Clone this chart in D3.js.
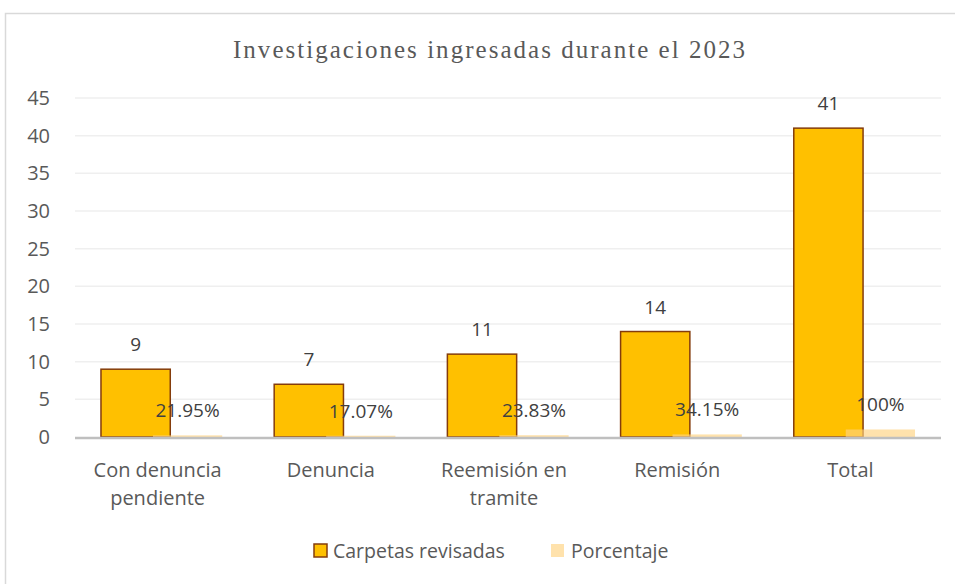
<!DOCTYPE html>
<html><head><meta charset="utf-8">
<script src="https://cdn.jsdelivr.net/npm/d3@7"></script>
<style>html,body{margin:0;padding:0;background:#fff;}svg{display:block;}</style>
</head><body>
<svg id="c" width="955" height="584"></svg>
<script>
const categories = [["Con denuncia","pendiente"],["Denuncia"],["Reemisión en","tramite"],["Remisión"],["Total"]];
const carpetas = [9, 7, 11, 14, 41];
const porcentaje = [0.2195, 0.1707, 0.2383, 0.3415, 1];
const porcentajeLabels = ["21.95%","17.07%","23.83%","34.15%","100%"];
const yTicks = [0,5,10,15,20,25,30,35,40,45];
const seriesNames = ["Carpetas revisadas","Porcentaje"];
const title = "Investigaciones ingresadas durante el 2023";

const svg = d3.select("#c");
const font = "'Open Sans', 'Noto Sans', sans-serif";
const txt = "#595959";

svg.append("rect").attr("x",5.5).attr("y",13.5).attr("width",960).attr("height",580)
  .attr("fill","#fff").attr("stroke","#d9d9d9").attr("stroke-width",1.5);

svg.append("text").attr("x",489).attr("y",58).attr("text-anchor","middle")
  .attr("font-family","'Liberation Serif','Times New Roman',serif").attr("font-size",25)
  .attr("fill",txt).attr("textLength",512).attr("lengthAdjust","spacing").text(title);

const keys = categories.map(c=>c.join(" "));
const x = d3.scaleBand().domain(keys).range([75,941]).padding(0);
const y = d3.scaleLinear().domain([0,45]).range([437,98]);

// gridlines
svg.append("g").selectAll("line").data(yTicks.filter(t=>t>0)).join("line")
  .attr("x1",75).attr("x2",941).attr("y1",d=>y(d)).attr("y2",d=>y(d))
  .attr("stroke","#efefef").attr("stroke-width",1.5);

// y axis labels
const yAxis = svg.append("g").attr("transform","translate(75,0)")
  .call(d3.axisLeft(y).tickValues(yTicks).tickSize(0).tickPadding(25));
yAxis.select(".domain").remove();
yAxis.selectAll("text").attr("font-family",font).attr("font-size",20).attr("fill",txt);

const step = x.bandwidth();
const w = step/2.5;
const groupW = w*1.75;
const cx = k => x(k) + step/2;

// carpetas bars
svg.append("g").selectAll("rect").data(carpetas).join("rect")
  .attr("x",(d,i)=>cx(keys[i]) - groupW/2)
  .attr("y",d=>y(d)).attr("width",w).attr("height",d=>y(0)-y(d))
  .attr("fill","#FFC000").attr("stroke","#843C0C").attr("stroke-width",1.5);

// porcentaje bars
svg.append("g").selectAll("rect").data(porcentaje).join("rect")
  .attr("x",(d,i)=>cx(keys[i]) - groupW/2 + 0.75*w)
  .attr("y",d=>y(d)).attr("width",w).attr("height",d=>y(0)-y(d))
  .attr("fill","#FFD27F").attr("fill-opacity",0.65);

// baseline
svg.append("line").attr("x1",75).attr("x2",941).attr("y1",y(0)+1).attr("y2",y(0)+1)
  .attr("stroke","#bfbfbf").attr("stroke-width",2.5);

// labels
svg.append("g").selectAll("text").data(carpetas).join("text")
  .attr("x",(d,i)=>cx(keys[i]) - groupW/2 + w/2).attr("y",d=>y(d)-18)
  .attr("text-anchor","middle").attr("font-family",font).attr("font-size",19).attr("fill","#404040")
  .text(d=>d);
svg.append("g").selectAll("text").data(porcentaje).join("text")
  .attr("x",(d,i)=>cx(keys[i]) - groupW/2 + 0.75*w + w/2).attr("y",d=>y(d)-18)
  .attr("text-anchor","middle").attr("font-family",font).attr("font-size",19).attr("fill","#404040")
  .text((d,i)=>porcentajeLabels[i]);

// category labels
const cat = svg.append("g").selectAll("text").data(categories).join("text")
  .attr("text-anchor","middle").attr("font-family",font).attr("font-size",20).attr("fill",txt);
cat.each(function(lines,i){
  const t = d3.select(this);
  lines.forEach((l,j)=>t.append("tspan").attr("x",cx(keys[i])-4).attr("y",477+j*28).text(l));
});

// legend
const lg = svg.append("g").attr("font-family",font).attr("font-size",19.5).attr("fill",txt);
lg.append("rect").attr("x",314).attr("y",544).attr("width",13).attr("height",13)
  .attr("fill","#FFC000").attr("stroke","#843C0C").attr("stroke-width",1.5);
lg.append("text").attr("x",333).attr("y",558).text(seriesNames[0]);
lg.append("rect").attr("x",551).attr("y",544).attr("width",13).attr("height",13)
  .attr("fill","#FFD27F").attr("fill-opacity",0.65);
lg.append("text").attr("x",571).attr("y",558).text(seriesNames[1]);
</script>
</body></html>
